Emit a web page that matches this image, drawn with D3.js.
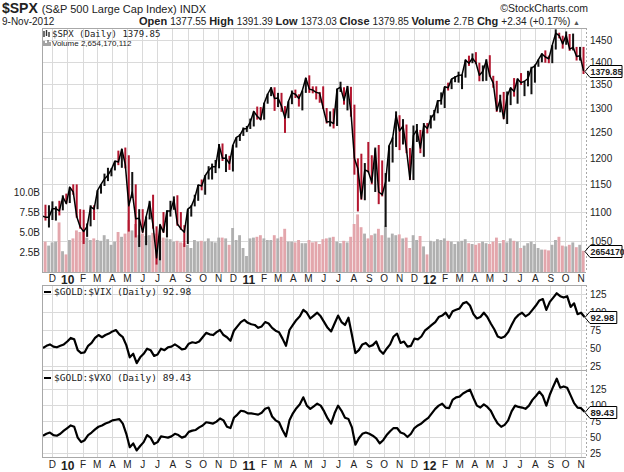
<!DOCTYPE html>
<html>
<head>
<meta charset="utf-8">
<script src="https://cdn.jsdelivr.net/npm/d3@7"></script>
<style>
body { margin: 0; background: #fff; }
svg text { font-family: "Liberation Sans", Arial, sans-serif; fill: #222; }
.grid line { stroke: #dadada; shape-rendering: crispEdges; }
.grid path, .labels path { display: none; }
.mono { font-family: "DejaVu Sans Mono", monospace !important; }
</style>
</head>
<body>
<svg id="chart" width="624" height="472"></svg>
<script>
// data, one value per week (Friday)

const firstFriday = new Date(2009, 10, 13);
const lastFriday = new Date(2012, 10, 9);

const spxHigh = [
    1097,1113,1112,1119,1110,1120,1130,1133,
    1145,1150,1150,1105, 1104,1080,1112,1112, 1139,1150,1170,1181, 1180,1194,1214,1217,1220,
    1205,1173,1150,1105, 1105,1092,1120,1131, 1075,1078,1100,1103,1120, 1128,1130,1100,1077,
    1105,1112,1131,1149, 1159,1167,1184,1189,1196, 1227,1228,1207,1204, 1225,1240,1247,1260,1263,
    1278,1293,1303,1302, 1311,1330,1344,1344, 1332,1332,1304,1314, 1337,1339,1329,1337,1364,
    1370,1346,1346,1334, 1346,1300,1293,1299, 1341,1356,1344,1347,1345, 1307,1199,1208,1190,
    1231,1205,1220,1225,1195, 1171,1224,1240,1293, 1285,1277,1266,1219, 1264,1267,1255,1269,1269,
    1285,1296,1316,1333, 1345,1354,1362,1368, 1378,1372,1405,1414,1419, 1422,1398,1392,1406,
    1415,1369,1358,1328, 1334,1335,1343,1364,1363, 1375,1357,1380,1389, 1394,1405,1419,1426,1414,
    1438,1475,1467,1460, 1470,1464,1465,1434, 1434,1434,
];
const spxLow = [
    1067,1085,1073,1086,1085,1094,1103,1115,
    1116,1131,1090,1071, 1045,1057,1075,1086, 1105,1133,1147,1156, 1165,1176,1186,1181,1180,
    1066,1125,1056,1040, 1064,1043,1087,1071, 1011,1018,1064,1056,1092, 1104,1076,1069,1040,
    1045,1092,1110,1120, 1139,1131,1159,1159,1171, 1180,1194,1173,1177, 1174,1220,1233,1243,1251,
    1257,1262,1276,1275, 1276,1309,1325,1294, 1302,1292,1249,1279, 1308,1321,1303,1295,1332,
    1332,1331,1318,1311, 1298,1268,1262,1258, 1263,1334,1307,1295,1282, 1168,1101,1122,1121,
    1172,1150,1136,1114,1128, 1074,1155,1191,1221, 1215,1226,1209,1158, 1158,1231,1209,1202,1248,
    1258,1274,1289,1307, 1300,1337,1340,1355, 1354,1340,1365,1391,1397, 1395,1357,1357,1358,
    1367,1343,1292,1291, 1277,1267,1306,1324,1309, 1349,1325,1346,1329, 1354,1389,1399,1398,1397,
    1397,1428,1454,1430, 1439,1425,1426,1403, 1403,1373,
];
const spxClose = [
    1093,1091,1091,1106,1106,1102,1127,1115,
    1145,1136,1092,1074, 1066,1075,1109,1105, 1139,1150,1160,1167, 1178,1194,1192,1217,1187,
    1111,1136,1088,1089, 1065,1092,1117,1076, 1022,1078,1065,1102,1102, 1122,1079,1071,1065,
    1105,1110,1125,1149, 1147,1166,1176,1183,1183, 1225,1199,1199,1189, 1225,1240,1244,1257,1258,
    1271,1293,1283,1276, 1310,1329,1343,1320, 1321,1304,1279,1314, 1332,1329,1320,1337,1364,
    1340,1338,1333,1331, 1300,1271,1272,1268, 1340,1344,1316,1345,1292, 1199,1179,1124,1177,
    1174,1154,1216,1136,1131, 1155,1224,1238,1285, 1253,1263,1216,1159, 1244,1255,1219,1265,1258,
    1278,1289,1315,1316, 1345,1343,1362,1366, 1370,1371,1404,1397,1408, 1398,1370,1379,1403,
    1369,1353,1295,1318, 1278,1325,1343,1335,1362, 1354,1357,1363,1386, 1391,1405,1418,1411,1407,
    1438,1466,1460,1441, 1461,1429,1433,1412, 1414,1379.85,
];
// billions of shares
const spxVolume = [
    3.6,3.8,3.3,3.7,3.8,6.2,2.6,2.2,
    4.0,4.2,5.2,5.0, 5.4,4.3,4.0,4.2, 4.0,3.9,4.6,4.1, 3.4,3.8,5.0,4.4,4.8,
    6.5,5.2,6.0,4.6, 4.8,4.5,4.6,4.9, 4.8,3.8,4.3,4.2,4.1, 3.8,3.9,3.7,3.6,
    3.4,3.0,4.0,3.8, 3.9,3.8,4.2,3.8,3.7, 4.3,4.3,4.2,3.4, 5.5,4.0,4.6,3.0,2.0,
    4.2,4.3,4.4,4.6, 4.2,4.0,4.0,4.6, 4.2,4.4,5.4,3.8, 3.8,3.7,4.0,3.6,3.6,
    4.0,3.7,3.8,3.5, 4.1,4.2,4.3,4.4, 3.8,3.6,3.9,3.7,4.4, 6.0,7.2,5.6,4.8,
    4.2,4.6,4.8,5.4,4.6, 5.8,4.3,4.8,4.6, 4.7,4.2,4.3,3.0, 4.6,4.0,4.5,3.2,2.2,
    3.9,3.8,4.1,4.0, 4.2,3.9,3.8,3.5, 3.8,3.9,4.1,3.6,3.5, 3.4,3.6,3.8,3.6,
    3.5,3.8,4.3,3.6, 4.0,3.7,4.2,3.9,3.8, 3.0,3.3,3.6,3.8, 3.5,3.0,2.8,2.8,2.7,
    3.4,4.0,4.4,3.3, 3.2,3.4,3.7,3.1, 3.4,2.65,
];
const goldVix = [
    50,53,55,52,51,53,55,59,
    64,62,47,43, 44,53,57,64, 68,65,68,70, 73,75,69,65,54,
    37,42,29,37, 42,49,47,39, 41,49,47,51,52, 55,52,48,49,
    56,58,57,59, 65,71,69,68,72, 75,68,65,60, 74,80,86,89,85,
    83,82,78,80, 86,84,78,74, 72,63,53,75, 82,89,94,103,99,
    91,95,99,94, 86,78,73,84, 95,86,82,92,68, 43,47,55,57,
    52,54,59,47,42, 49,55,66,70, 57,59,52,53, 63,62,66,74,78,
    82,86,93,95, 99,92,101,103, 105,112,114,109,97, 91,93,99,93,
    84,76,66,64, 66,72,82,91,96, 99,94,97,103, 109,116,118,103,114,
    120,126,122,120, 122,107,112,97, 99,92.98,
];
const goldVxo = [
    52,55,57,53,52,55,60,64,
    68,66,49,42, 45,53,57,62, 66,68,71,73, 76,77,78,71,55,
    34,40,29,36, 42,53,49,39, 42,51,50,49,51, 55,53,49,51,
    58,60,61,65, 68,73,72,71,74, 79,76,66,64, 80,85,91,90,87,
    87,86,85,88, 94,96,82,76, 73,61,51,76, 87,95,101,112,99,
    94,98,102,99, 90,79,71,87, 99,91,80,78,65, 38,48,55,57,
    55,52,48,40,45, 53,59,64,64, 57,55,50,55, 64,68,71,76,80,
    87,94,99,102, 96,95,108,112, 113,118,121,124,111, 99,96,101,97,
    91,80,71,66, 69,76,90,99,97, 96,94,99,108, 114,121,114,99,116,
    129,141,127,129, 127,115,103,96, 95,89.43,
];

// tick values and labels
const priceTicks = [1050, 1100, 1150, 1200, 1250, 1300, 1350, 1400, 1450];
const volumeTicks = [2.5, 5, 7.5, 10];
const ratioTicks = [25, 50, 75, 100, 125];
const monthInitials = ['J', 'F', 'M', 'A', 'M', 'J', 'J', 'A', 'S', 'O', 'N', 'D'];

// layout

let left = 42, right = 586;
let priceTop = 28, priceBottom = 272;
let vixTop = 285, vixBottom = 370;
let vxoTop = 370, vxoBottom = 457;

let svg = d3.select('#chart');

let weeks = d3.timeFriday.range(firstFriday, d3.timeDay.offset(lastFriday, 1));
let rows = weeks.map((d, i) => ({
    date: d,
    mid: d3.timeDay.offset(d, -2),
    high: spxHigh[i],
    low: spxLow[i],
    close: spxClose[i],
    vol: spxVolume[i],
    up: i == 0 || spxClose[i] >= spxClose[i-1],
    vix: goldVix[i],
    vxo: goldVxo[i],
}));
let months = d3.timeMonth.range(new Date(2009, 11, 1), new Date(2012, 10, 2));

// scales

let x = d3.scaleTime()
    .domain([new Date(2009, 10, 11), new Date(2012, 10, 12)])
    .range([left, right]);
let yPrice = d3.scaleLog().domain([1050, 1450]).range([241, 40]);
let yVol = d3.scaleLinear().domain([0, 10]).range([priceBottom, 192]);
let yVix = d3.scaleLinear().domain([25, 125]).range([366, 294]);
let yVxo = d3.scaleLinear().domain([25, 125]).range([453, 389]);

let weekWidth = x(new Date(2010, 0, 8)) - x(new Date(2010, 0, 1));

// grids

function drawGrid(y, ticks, top, bottom) {
    svg.append('g')
        .classed('grid', 1)
        .attr('transform', `translate(${left},0)`)
        .call(d3.axisRight(y).tickValues(ticks).tickSize(right - left).tickFormat(''));
    svg.append('g')
        .classed('grid', 1)
        .attr('transform', `translate(0,${bottom})`)
        .call(d3.axisBottom(x).tickValues(months).tickSize(top - bottom).tickFormat(''));
}

drawGrid(yPrice, priceTicks, priceTop, priceBottom);
drawGrid(yVix, ratioTicks, vixTop, vixBottom);
drawGrid(yVxo, ratioTicks, vxoTop, vxoBottom);

function clip(id, top, bottom) {
    svg.append('clipPath').attr('id', id)
        .append('rect')
        .attr('x', left).attr('y', top)
        .attr('width', right - left).attr('height', bottom - top);
    return `url(#${id})`;
}

// price panel: volume, then weekly range bars and the close line

let pricePlot = svg.append('g').attr('clip-path', clip('clipPrice', priceTop, priceBottom));

pricePlot.selectAll('.vol')
    .data(rows)
    .enter()
    .append('rect')
    .classed('vol', 1)
    .attr('x', d => x(d.mid) - weekWidth/2)
    .attr('width', weekWidth - 0.6)
    .attr('y', d => yVol(d.vol))
    .attr('height', d => yVol(0) - yVol(d.vol))
    .attr('fill', d => d.up ? '#b0b0b0' : '#e3a6ac');

pricePlot.selectAll('.bar')
    .data(rows)
    .enter()
    .append('rect')
    .classed('bar', 1)
    .attr('x', d => x(d.mid) - 1)
    .attr('width', 2)
    .attr('y', d => yPrice(d.high))
    .attr('height', d => yPrice(d.low) - yPrice(d.high))
    .attr('fill', d => d.up ? '#111' : '#b3162f');

pricePlot.append('path')
    .datum(rows)
    .attr('fill', 'none')
    .attr('stroke', '#000')
    .attr('stroke-width', 1.5)
    .attr('stroke-linejoin', 'round')
    .attr('d', d3.line().x(d => x(d.mid)).y(d => yPrice(d.close)));

// ratio panels

function drawRatio(key, y, top, bottom) {
    svg.append('g')
        .attr('clip-path', clip('clip' + key, top, bottom))
        .append('path')
        .datum(rows)
        .attr('fill', 'none')
        .attr('stroke', '#000')
        .attr('stroke-width', 2.2)
        .attr('stroke-linejoin', 'round')
        .attr('d', d3.line().x(d => x(d.date)).y(d => y(d[key])));
}

drawRatio('vix', yVix, vixTop, vixBottom);
drawRatio('vxo', yVxo, vxoTop, vxoBottom);

// frames

function frame(top, bottom) {
    let g = svg.append('g')
        .attr('fill', 'none')
        .attr('stroke', '#a8a8a8')
        .attr('shape-rendering', 'crispEdges');
    g.append('path').attr('d', `M${right},${top}H${left}V${bottom}H${right}`);
    g.append('line')
        .attr('x1', right).attr('x2', right)
        .attr('y1', top).attr('y2', bottom)
        .attr('stroke-dasharray', '2,2');
}

frame(priceTop, priceBottom);
frame(vixTop, vixBottom);
frame(vxoTop, vxoBottom);

// axes

function rightAxis(y, ticks, fmt) {
    svg.append('g')
        .classed('labels', 1)
        .attr('transform', `translate(${right},0)`)
        .call(d3.axisRight(y).tickValues(ticks).tickSize(0).tickPadding(4).tickFormat(fmt))
        .selectAll('text')
        .style('font-size', '10px')
        .style('font-family', '"Liberation Sans", Arial, sans-serif')
        .attr('fill', '#333');
}

rightAxis(yPrice, priceTicks, d3.format('d'));
rightAxis(yVix, ratioTicks, d3.format('d'));
rightAxis(yVxo, ratioTicks, d3.format('d'));

svg.append('g')
    .classed('labels', 1)
    .attr('transform', `translate(${left},0)`)
    .call(d3.axisLeft(yVol).tickValues(volumeTicks).tickSize(0).tickPadding(2)
        .tickFormat(d => d3.format('.1f')(d) + 'B'))
    .selectAll('text')
    .style('font-size', '10px')
    .style('font-family', '"Liberation Sans", Arial, sans-serif')
    .attr('fill', '#333');

function monthAxis(y) {
    svg.append('g')
        .classed('labels', 1)
        .attr('transform', `translate(0,${y})`)
        .call(d3.axisBottom(x).tickValues(months).tickSize(0).tickPadding(3)
            .tickFormat(d => d.getMonth() == 0 ? d3.timeFormat('%y')(d) : monthInitials[d.getMonth()]))
        .selectAll('text')
        .style('font-family', '"Liberation Sans", Arial, sans-serif')
        .style('font-size', d => d.getMonth() == 0 ? '12px' : '10px')
        .style('font-weight', d => d.getMonth() == 0 ? 'bold' : 'normal')
        .attr('fill', '#333');
}

monthAxis(priceBottom);
monthAxis(vxoBottom + 1);

// value tags on the right edge

function drawTag(y, label, size) {
    let g = svg.append('g').attr('transform', `translate(${right - 1},${Math.round(y) + 0.5})`);
    let path = g.append('path')
        .attr('fill', '#fff')
        .attr('stroke', '#000');
    let text = g.append('text')
        .attr('x', 5.5)
        .attr('dy', '0.36em')
        .style('font-size', size + 'px')
        .style('font-weight', 'bold')
        .attr('fill', '#000')
        .text(label);
    let w = text.node().getComputedTextLength();
    path.attr('d', `M0,0L5,-6H${Math.min(w + 8, 37)}V6H5Z`);
}

drawTag(yPrice(spxClose[spxClose.length-1]), '1379.85', 8.8);
drawTag(yVol(spxVolume[spxVolume.length-1]), '2654170', 8.8);
drawTag(yVix(goldVix[goldVix.length-1]), '92.98', 9.5);
drawTag(yVxo(goldVxo[goldVxo.length-1]), '89.43', 9.5);

// legends

let legend = svg.append('g');

// bar icon
[[44, 31, 37], [46.5, 30, 36], [49, 32, 37]].forEach(b => {
    legend.append('line')
        .attr('x1', b[0]).attr('x2', b[0]).attr('y1', b[1]).attr('y2', b[2])
        .attr('stroke', '#333').attr('stroke-width', 1.4);
});
legend.append('text')
    .classed('mono', 1)
    .attr('x', 52).attr('y', 37)
    .style('font-size', '9px')
    .text('$SPX (Daily) 1379.85');

// volume icon
[[44, 41], [46, 43], [48, 40], [50, 42]].forEach(b => {
    legend.append('line')
        .attr('x1', b[0]).attr('x2', b[0]).attr('y1', b[1]).attr('y2', 46)
        .attr('stroke', '#666').attr('stroke-width', 1.2);
});
legend.append('text')
    .attr('x', 52).attr('y', 46)
    .style('font-size', '8px')
    .attr('fill', '#777')
    .text('Volume 2,654,170,112');

[['$GOLD:$VIX (Daily) 92.98', vixTop + 10], ['$GOLD:$VXO (Daily) 89.43', vxoTop + 11]].forEach(l => {
    legend.append('line')
        .attr('x1', 44).attr('x2', 51)
        .attr('y1', l[1] - 3).attr('y2', l[1] - 3)
        .attr('stroke', '#000').attr('stroke-width', 2);
    legend.append('text')
        .classed('mono', 1)
        .attr('x', 54).attr('y', l[1])
        .style('font-size', '9.5px')
        .text(l[0]);
});

// header

let title = svg.append('text').attr('x', 2).attr('y', 13);
title.append('tspan').style('font-size', '14px').style('font-weight', 'bold').text('$SPX ');
title.append('tspan').style('font-size', '11px').text('(S&P 500 Large Cap Index) INDX');

svg.append('text')
    .attr('x', right + 2).attr('y', 12)
    .attr('text-anchor', 'end')
    .style('font-size', '10.5px')
    .attr('fill', '#888')
    .text('\u00a9StockCharts.com');

svg.append('text')
    .attr('x', 2).attr('y', 25)
    .style('font-size', '10px')
    .text('9-Nov-2012');

let quote = [
    ['Open', '1377.55'], ['High', '1391.39'], ['Low', '1373.03'],
    ['Close', '1379.85'], ['Volume', '2.7B'], ['Chg', '+2.34 (+0.17%)'],
];
let quoteText = svg.append('text')
    .attr('x', right - 6).attr('y', 25)
    .attr('text-anchor', 'end');
quote.forEach(q => {
    quoteText.append('tspan').style('font-size', '11px').style('font-weight', 'bold').text(q[0] + ' ');
    quoteText.append('tspan').style('font-size', '10px').text(q[1] + '  ');
});
quoteText.append('tspan').style('font-size', '7px').attr('fill', '#555').text('\u25b2');
</script>
</body>
</html>
